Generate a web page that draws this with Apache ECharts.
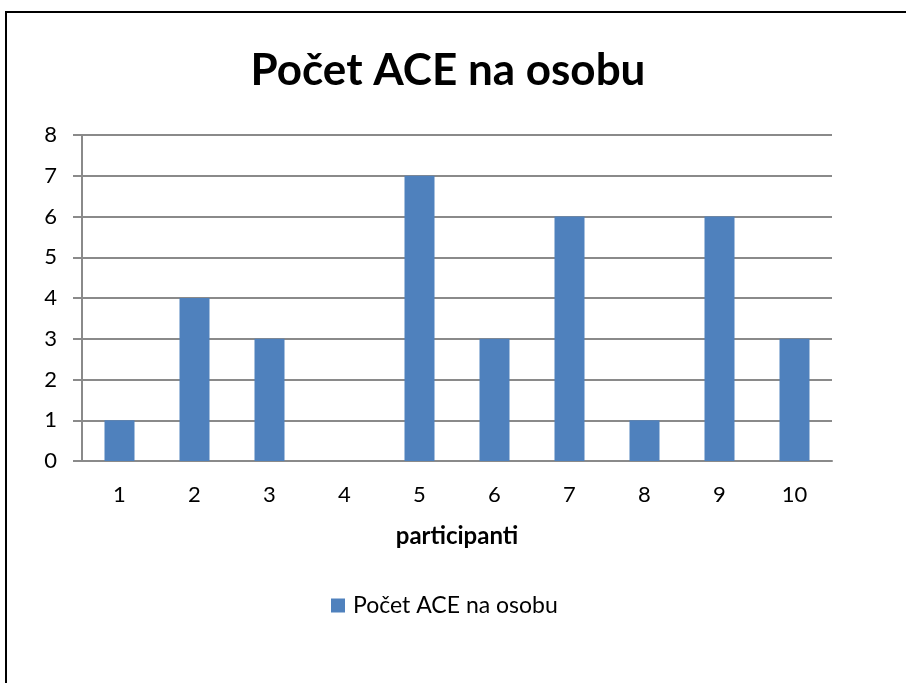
<!DOCTYPE html>
<html>
<head>
<meta charset="utf-8">
<script src="https://cdn.jsdelivr.net/npm/echarts@6/dist/echarts.min.js"></script>
<style>
html,body{margin:0;padding:0;background:#fff;}
#chart{width:906px;height:683px;}
</style>
</head>
<body>
<div id="chart"></div>
<script>
const titleText = "Počet ACE na osobu";
const seriesName = "Počet ACE na osobu";
const xAxisName = "participanti";
const categories = ["1","2","3","4","5","6","7","8","9","10"];
const values = [1,4,3,0,7,3,6,1,6,3];
const yMin = 0, yMax = 8, yStep = 1;

const FONT = "Lato";
const chart = echarts.init(document.getElementById('chart'), null, {renderer:'canvas'});
chart.setOption({
  animation:false,
  backgroundColor:'#fff',
  title:{
    text:titleText,
    left:443, top:44,
    textAlign:'center',
    textStyle:{fontFamily:FONT,fontWeight:'bold',fontSize:44,color:'#000'}
  },
  graphic:[{
    type:'rect',
    shape:{x:6,y:12,width:1000,height:1000},
    style:{fill:'none',stroke:'#000',lineWidth:2},
    silent:true
  }],
  legend:{
    data:[seriesName],
    left:326, top:589,
    itemWidth:14, itemHeight:14, itemGap:10,
    icon:'rect',
    textStyle:{fontFamily:FONT,fontSize:23,color:'#000',padding:[0,0,0,3]}
  },
  grid:{left:82,right:74,top:135,bottom:222,containLabel:false},
  xAxis:{
    type:'category',
    data:categories,
    name:xAxisName,
    nameLocation:'middle',
    nameGap:63,
    nameTextStyle:{fontFamily:FONT,fontWeight:'bold',fontSize:24,color:'#000',verticalAlign:'top'},
    axisLine:{show:true,lineStyle:{color:'#8a8a8a',width:2}},
    axisTick:{show:false},
    axisLabel:{fontFamily:FONT,fontSize:22,color:'#000',margin:23}
  },
  yAxis:{
    type:'value',
    min:yMin,max:yMax,interval:yStep,
    axisLine:{show:true,lineStyle:{color:'#8a8a8a',width:2}},
    axisTick:{show:true,length:9,lineStyle:{color:'#8a8a8a',width:2}},
    axisLabel:{fontFamily:FONT,fontSize:22,color:'#000',margin:25},
    splitLine:{show:true,lineStyle:{color:'#8a8a8a',width:2}}
  },
  series:[{
    name:seriesName,
    type:'bar',
    data:values,
    barWidth:'40%',
    itemStyle:{color:'#4F81BD'}
  }]
});
</script>
</body>
</html>
